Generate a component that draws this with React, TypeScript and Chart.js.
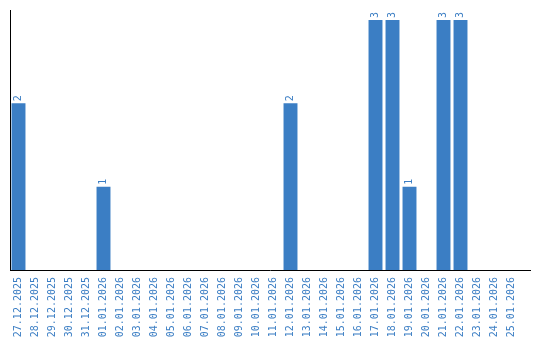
import React, { useEffect, useRef } from "react";
import { Chart, registerables } from "chart.js";

Chart.register(...registerables);

const categories: string[] = [
  "27.12.2025", "28.12.2025", "29.12.2025", "30.12.2025", "31.12.2025",
  "01.01.2026", "02.01.2026", "03.01.2026", "04.01.2026", "05.01.2026",
  "06.01.2026", "07.01.2026", "08.01.2026", "09.01.2026", "10.01.2026",
  "11.01.2026", "12.01.2026", "13.01.2026", "14.01.2026", "15.01.2026",
  "16.01.2026", "17.01.2026", "18.01.2026", "19.01.2026", "20.01.2026",
  "21.01.2026", "22.01.2026", "23.01.2026", "24.01.2026", "25.01.2026",
];

const counts: number[] = [
  2, 0, 0, 0, 0,
  1, 0, 0, 0, 0,
  0, 0, 0, 0, 0,
  0, 2, 0, 0, 0,
  0, 3, 3, 1, 0,
  3, 3, 0, 0, 0,
];

const BLUE = "rgb(59,126,196)";
const FONT = "'DejaVu Sans Mono', 'Liberation Mono', monospace";

const valueLabels = {
  id: "valueLabels",
  afterDatasetsDraw(chart: any) {
    const ctx = chart.ctx;
    const meta = chart.getDatasetMeta(0);
    ctx.save();
    ctx.fillStyle = BLUE;
    ctx.font = `10px ${FONT}`;
    ctx.textAlign = "left";
    ctx.textBaseline = "middle";
    meta.data.forEach((bar: any, i: number) => {
      const v = counts[i];
      if (!v) return;
      ctx.save();
      ctx.translate(bar.x, bar.y - 2);
      ctx.rotate(-Math.PI / 2);
      ctx.fillText(String(v), 0, 0);
      ctx.restore();
    });
    ctx.restore();
  },
};

const axisLine = {
  id: "axisLine",
  afterDraw(chart: any) {
    const { ctx, chartArea } = chart;
    ctx.save();
    ctx.strokeStyle = "#000";
    ctx.lineWidth = 1;
    ctx.beginPath();
    ctx.moveTo(chartArea.left, chartArea.bottom + 0.5);
    ctx.lineTo(chartArea.right + 11, chartArea.bottom + 0.5);
    ctx.stroke();
    ctx.restore();
  },
};

export default function App() {
  const ref = useRef<HTMLCanvasElement>(null);
  useEffect(() => {
    if (!ref.current) return;
    const chart = new Chart(ref.current, {
      type: "bar",
      data: {
        labels: categories,
        datasets: [
          {
            data: counts,
            backgroundColor: BLUE,
            borderWidth: 0,
            barPercentage: 0.82,
            categoryPercentage: 1,
          },
        ],
      },
      options: {
        animation: false,
        responsive: false,
        maintainAspectRatio: false,
        layout: { padding: { left: 10, right: 20, top: 10, bottom: 0 } },
        plugins: {
          legend: { display: false },
          tooltip: { enabled: false },
        },
        scales: {
          x: {
            grid: { display: false, drawTicks: false },
            border: { display: false },
            ticks: {
              color: BLUE,
              font: { family: FONT, size: 10 },
              minRotation: 90,
              maxRotation: 90,
              autoSkip: false,
              padding: 7,
            },
            afterFit(scale: any) {
              scale.height = 70;
            },
          },
          y: {
            min: 0,
            max: 3.12,
            grid: { display: false, drawTicks: false },
            border: { display: true, color: "#000", width: 1 },
            ticks: { display: false },
            afterFit(scale: any) {
              scale.width = 0;
            },
          },
        },
      },
      plugins: [valueLabels, axisLine],
    });
    return () => chart.destroy();
  }, []);
  return (
    <div style={{ position: "fixed", left: 0, top: 0, width: 540, height: 340, background: "#fff" }}>
      <canvas ref={ref} width={540} height={340} />
    </div>
  );
}
